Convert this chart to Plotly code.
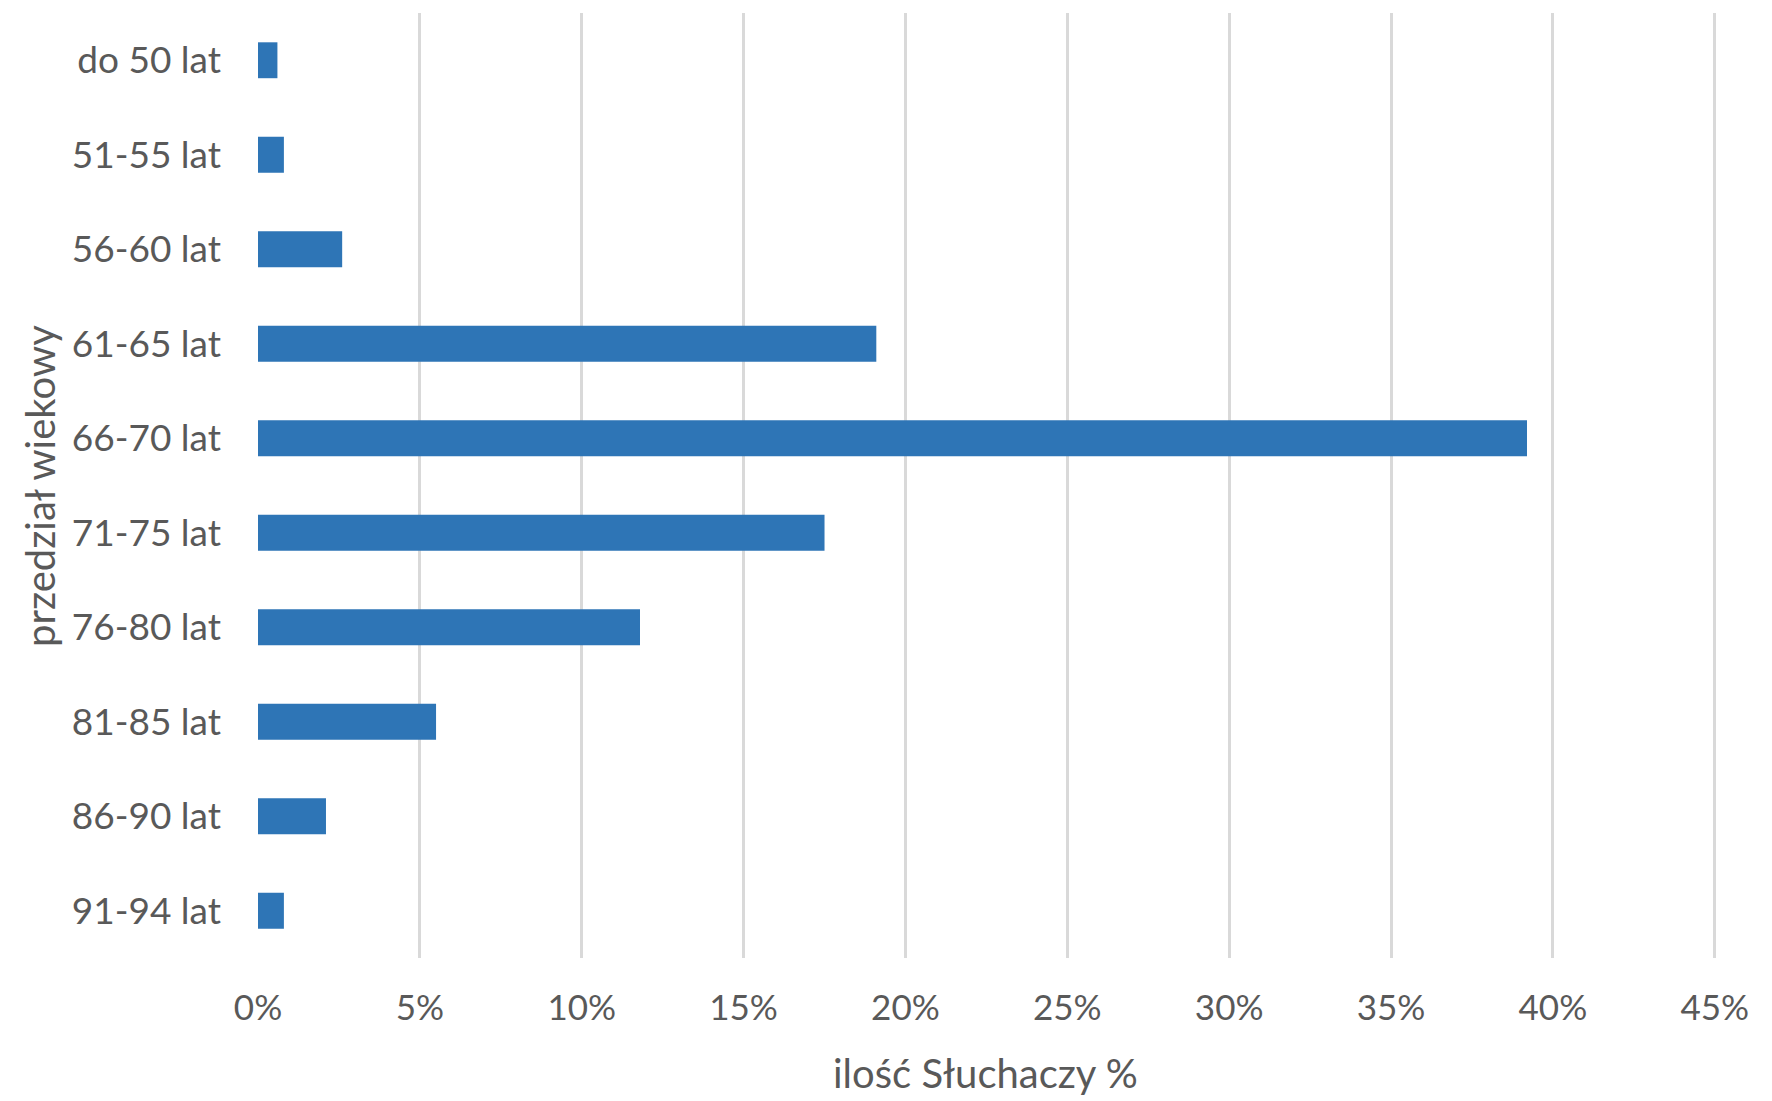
import plotly.graph_objects as go

categories = ["do 50 lat", "51-55 lat", "56-60 lat", "61-65 lat", "66-70 lat",
              "71-75 lat", "76-80 lat", "81-85 lat", "86-90 lat", "91-94 lat"]
values = [0.6, 0.8, 2.6, 19.1, 39.2, 17.5, 11.8, 5.5, 2.1, 0.8]
x_ticks = [0, 5, 10, 15, 20, 25, 30, 35, 40, 45]
x_tick_labels = [f"{t}%" for t in x_ticks]
x_title = "ilość Słuchaczy %"
y_title = "przedział wiekowy"

W, H = 1772, 1101
L, R, T, B = 258, 54, 13, 143
pw, ph = W - L - R, H - T - B

font_family = "Lato, 'Open Sans', sans-serif"
text_color = "#595959"

fig = go.Figure(go.Bar(
    x=values, y=categories, orientation="h",
    marker=dict(color="#2E75B6", line=dict(width=0)),
    width=0.38,
))

fig.update_layout(
    width=W, height=H,
    margin=dict(l=L, r=R, t=T, b=B, pad=0),
    paper_bgcolor="white", plot_bgcolor="white",
    showlegend=False,
    font=dict(family=font_family, size=36, color=text_color),
)
fig.update_xaxes(
    range=[0, 45.1], tickvals=x_ticks, ticktext=x_tick_labels,
    showgrid=True, gridcolor="#d9d9d9", gridwidth=2.5,
    zeroline=False, showline=False, ticks="",
    ticklabelstandoff=26,
    tickfont=dict(size=35, color=text_color),
)
fig.update_yaxes(
    autorange="reversed", showgrid=False, zeroline=False,
    showline=False, ticks="", ticklabelstandoff=36,
    tickfont=dict(size=37, color=text_color),
)

fig.add_annotation(
    text=x_title, xref="paper", yref="paper",
    x=(872 * 1.13 - L) / pw, y=(T + ph - 1073) / ph,
    showarrow=False, font=dict(size=40, color=text_color),
    xanchor="center", yanchor="middle",
)
fig.add_annotation(
    text=y_title, xref="paper", yref="paper",
    x=(40 - L) / pw, y=(T + ph - 486) / ph,
    showarrow=False, textangle=-90, font=dict(size=40, color=text_color),
    xanchor="center", yanchor="middle",
)

fig.write_html("out.html")
